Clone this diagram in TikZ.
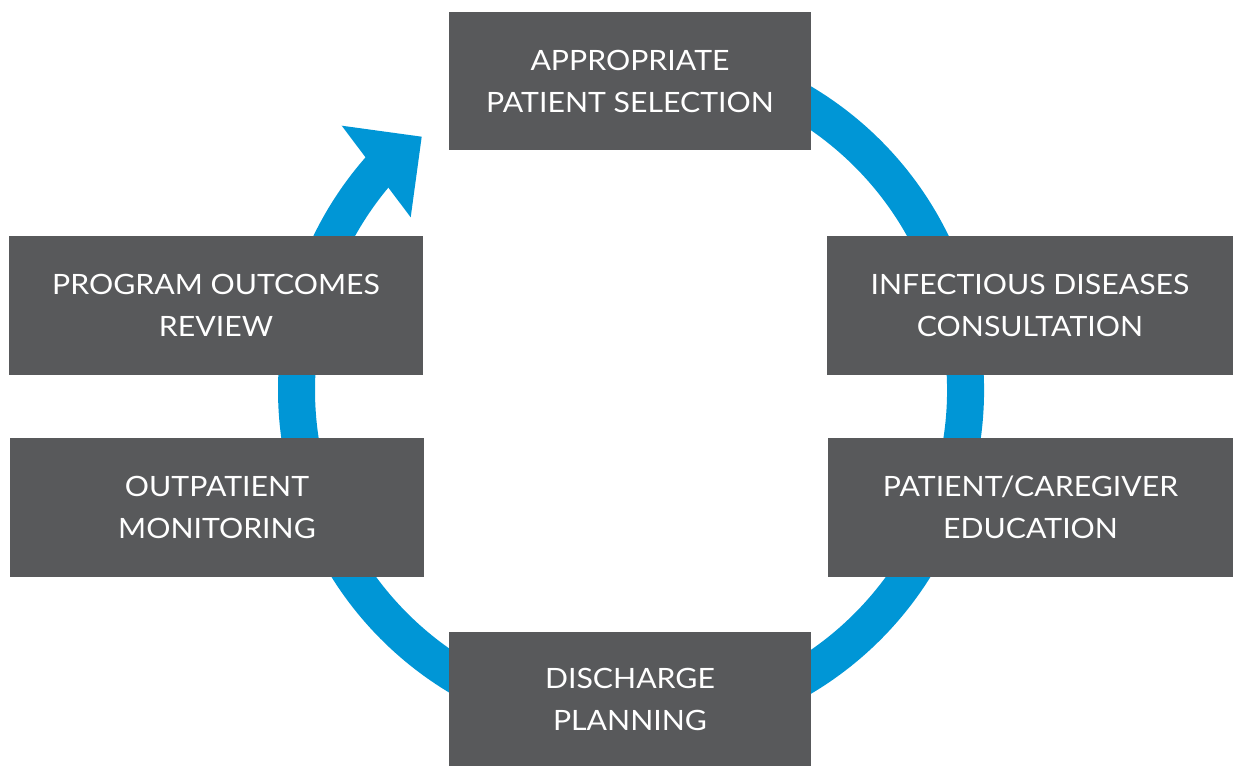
\documentclass[tikz,border=0pt]{standalone}
\usepackage{fontspec}
\setmainfont[FakeStretch=1.08]{Lato}
\definecolor{ringblue}{HTML}{0096D6}
\definecolor{boxgray}{HTML}{58595B}
\tikzset{
  stagebox/.style={fill=boxgray, text=white, inner sep=0pt, align=center,
    font=\fontsize{28}{42}\selectfont},
  ring/.style={draw=ringblue, line width=37pt, line cap=butt}
}
\begin{document}
\begin{tikzpicture}[x=1pt,y=1pt]
\useasboundingbox (0,0) rectangle (1233,766);
% ring
\coordinate (c) at (631,376);
\draw[ring] (c) ++(100:334.5) arc[start angle=100, end angle=-223, radius=334.5];
\fill[ringblue] (341.7,640.3) -- (421.7,629.3) -- (410.7,548.7) -- cycle;
% boxes
\node[stagebox, minimum width=362pt, minimum height=138pt] (sel) at (630,685) {APPROPRIATE\\PATIENT SELECTION};
\node[stagebox, minimum width=406pt, minimum height=138.7pt] (idc) at (1030,460.6) {INFECTIOUS DISEASES\\CONSULTATION};
\node[stagebox, minimum width=405pt, minimum height=139pt] (edu) at (1030.5,258.8) {PATIENT/CAREGIVER\\EDUCATION};
\node[stagebox, minimum width=362pt, minimum height=134pt] (dis) at (630,67) {DISCHARGE\\PLANNING};
\node[stagebox, minimum width=414pt, minimum height=139pt] (mon) at (217,258.8) {OUTPATIENT\\MONITORING};
\node[stagebox, minimum width=414pt, minimum height=138.7pt] (rev) at (216,460.6) {PROGRAM OUTCOMES\\REVIEW};
\end{tikzpicture}
\end{document}
